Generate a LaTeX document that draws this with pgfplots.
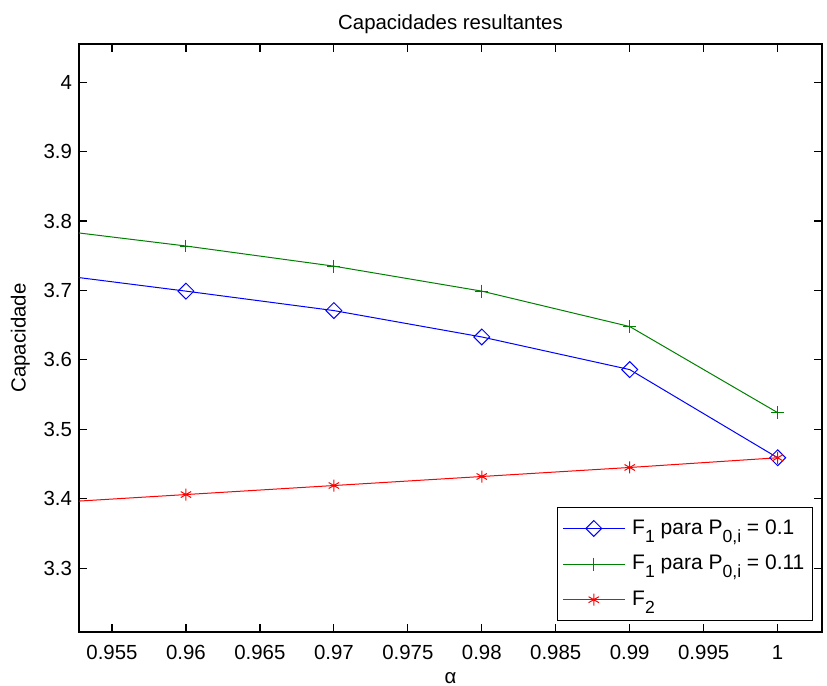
\documentclass[border=0pt]{standalone}
\usepackage{fontspec}
\setmainfont{Liberation Sans}
\usepackage{pgfplots}
\pgfplotsset{compat=1.18}
\usetikzlibrary{calc}

\definecolor{mblue}{rgb}{0,0,1}
\definecolor{mgreen}{rgb}{0,0.5,0}
\definecolor{mred}{rgb}{1,0,0}

% MATLAB-like lowered subscript
\newcommand\sub[1]{\raisebox{-0.7ex}{\fontsize{8.8}{9}\selectfont #1}}
\newcommand\lblfont{\fontsize{10.2}{12}\selectfont}

\begin{document}
\begin{tikzpicture}
\begin{axis}[
  name=ax,
  scale only axis,
  width=371.5pt, height=294pt,
  xmin=0.95277, xmax=1.003,
  ymin=3.208, ymax=4.055,
  xtick={0.955,0.96,0.965,0.97,0.975,0.98,0.985,0.99,0.995,1},
  xticklabels={0.955,0.96,0.965,0.97,0.975,0.98,0.985,0.99,0.995,1},
  ytick={3.3,3.4,3.5,3.6,3.7,3.8,3.9,4},
  yticklabels={3.3,3.4,3.5,3.6,3.7,3.8,3.9,4},
  /pgf/number format/assume math mode=true,
  tick align=inside,
  major tick length=3.8pt,
  every tick/.style={black, line width=0.6pt},
  axis line style={line width=0.8pt},
  tick label style={font=\lblfont},
  xticklabel style={yshift=-3pt},
  label style={font=\lblfont},
  title style={font=\lblfont, at={(0.5,1)}, anchor=base, yshift=1pt},
  title={Capacidades resultantes},
  xlabel={α},
  xlabel style={at={(0.5,0)}, anchor=base, yshift=-25.5pt},
  ylabel={Capacidade},
  legend style={at={(1,0)}, anchor=south east, xshift=-4.5pt, yshift=5.5pt,
    draw=black, line width=0.6pt, font=\fontsize{10.5}{12}\selectfont,
    cells={anchor=west},
    inner xsep=2pt, inner ysep=4pt, row sep=5pt},
  legend image code/.code={
    \path (-0.5pt,0pt) (32.5pt,0pt);
    \draw[mark repeat=2, mark phase=2, #1]
      plot coordinates {(0pt,0pt) (15.5pt,0pt) (31pt,0pt)};
  },
]

% F1, P0,i = 0.1
\addplot[color=mblue, line width=0.5pt, mark=square,
  mark size=2.8pt, mark options={rotate=45, solid}]
  coordinates {
    (0.95,3.726) (0.96,3.699) (0.97,3.671) (0.98,3.633) (0.99,3.586) (1.00,3.459)
  };
\addlegendentry{F\sub{1} para P\sub{0,i} = 0.1}

% F1, P0,i = 0.11
\addplot[color=mgreen, line width=0.5pt, mark=+,
  mark size=3.2pt, mark options={solid}]
  coordinates {
    (0.95,3.790) (0.96,3.764) (0.97,3.735) (0.98,3.699) (0.99,3.648) (1.00,3.524)
  };
\addlegendentry{F\sub{1} para P\sub{0,i} = 0.11}

% F2
\addplot[color=mred, line width=0.5pt, mark=asterisk,
  mark size=3pt, mark options={solid}]
  coordinates {
    (0.95,3.393) (0.96,3.406) (0.97,3.419) (0.98,3.432) (0.99,3.445) (1.00,3.459)
  };
\addlegendentry{F\sub{2}}

\end{axis}
\pgfresetboundingbox
\path[use as bounding box] ($(ax.south west)+(-39.5pt,-26.5pt)$)
  rectangle ($(ax.north east)+(2.5pt,22pt)$);
\end{tikzpicture}
\end{document}
